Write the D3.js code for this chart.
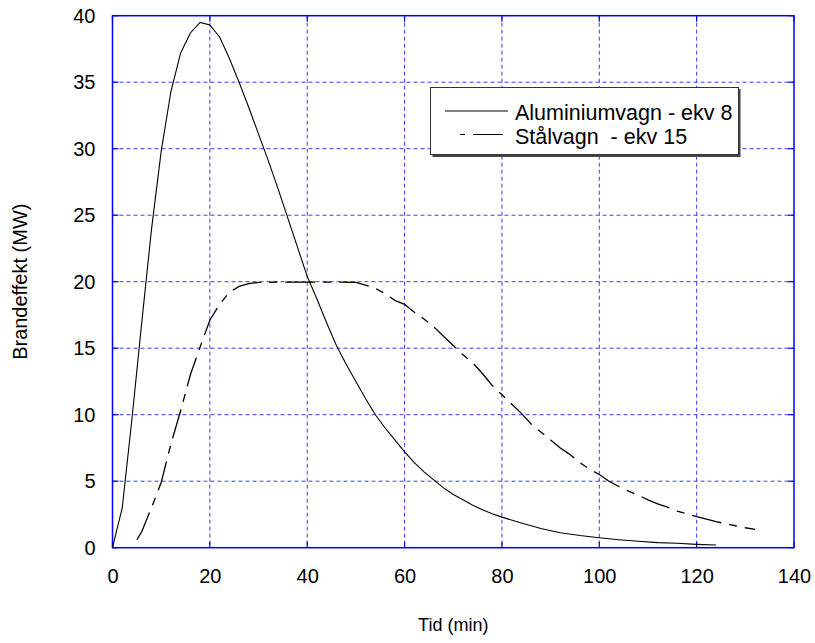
<!DOCTYPE html>
<html>
<head>
<meta charset="utf-8">
<script src="https://cdn.jsdelivr.net/npm/d3@7"></script>
<style>
  html, body { margin: 0; padding: 0; background: #fff; }
  svg { display: block; font-family: "Liberation Sans", Arial, sans-serif; }
</style>
</head>
<body>
<svg id="chart" width="815" height="643"></svg>
<script>
// Aluminiumvagn - ekv 8
const aluTime = [0, 2, 4, 6, 8, 10, 12, 14, 16, 18, 20, 22, 24, 26, 28, 30, 32, 34, 36, 38, 40, 42, 44, 46, 48, 50, 52, 54, 56, 58, 60, 62, 64, 66, 68, 70, 72, 74, 76, 78, 80, 84, 88, 92, 96, 100, 104, 108, 112, 116, 120, 124];
const aluPower = [0, 3.0, 9.7, 16.9, 23.9, 29.8, 34.3, 37.2, 38.7, 39.5, 39.3, 38.4, 36.8, 35.0, 33.1, 31.1, 29.1, 27.0, 24.8, 22.6, 20.4, 18.7, 16.9, 15.2, 13.8, 12.5, 11.2, 10.0, 9.0, 8.1, 7.2, 6.4, 5.7, 5.1, 4.5, 4.0, 3.6, 3.2, 2.85, 2.55, 2.3, 1.85, 1.45, 1.13, 0.92, 0.75, 0.6, 0.48, 0.38, 0.33, 0.25, 0.2];

// Stålvagn - ekv 15
const stalTime = [5, 6, 8, 10, 12, 14, 16, 18, 20, 22, 24, 26, 28, 30, 35, 40, 45, 50, 52, 54, 56, 58, 60, 62, 64, 66, 68, 70, 72, 74, 76, 78, 80, 82, 84, 86, 88, 90, 92, 94, 96, 98, 100, 102, 104, 106, 108, 110, 112, 114, 116, 118, 120, 122, 124, 126, 128, 130, 132];
const stalPower = [0.6, 1.2, 3.0, 4.9, 7.8, 10.3, 13.0, 15.1, 17.1, 18.3, 19.2, 19.65, 19.85, 19.95, 19.97, 19.97, 19.97, 19.95, 19.75, 19.5, 19.1, 18.6, 18.3, 17.7, 17.2, 16.6, 15.9, 15.2, 14.5, 13.9, 13.1, 12.2, 11.5, 10.8, 10.1, 9.3, 8.7, 8.1, 7.5, 7.0, 6.4, 5.9, 5.5, 5.0, 4.6, 4.25, 3.95, 3.6, 3.3, 3.05, 2.75, 2.55, 2.33, 2.15, 1.96, 1.8, 1.65, 1.5, 1.38];

const xTicks = [0, 20, 40, 60, 80, 100, 120, 140];
const yTicks = [0, 5, 10, 15, 20, 25, 30, 35, 40];
const seriesNames = ["Aluminiumvagn - ekv 8", "Stålvagn  - ekv 15"];
const xTitle = "Tid (min)";
const yTitle = "Brandeffekt (MW)";

const svg = d3.select("#chart");
const m = { left: 112.5, right: 794, top: 15.7, bottom: 547.7 };

const x = d3.scaleLinear().domain([0, 140]).range([m.left, m.right]);
const y = d3.scaleLinear().domain([0, 40]).range([m.bottom, m.top]);

const gridColor = "#3c3cff";

// grid lines
const grid = svg.append("g");
grid.selectAll("line.vx").data(xTicks.slice(1, -1)).enter().append("line")
  .attr("x1", d => x(d)).attr("x2", d => x(d))
  .attr("y1", m.top).attr("y2", m.bottom)
  .attr("stroke", gridColor).attr("stroke-width", 1).attr("stroke-dasharray", "4,3");
grid.selectAll("line.hy").data(yTicks.slice(1, -1)).enter().append("line")
  .attr("y1", d => y(d)).attr("y2", d => y(d))
  .attr("x1", m.left).attr("x2", m.right)
  .attr("stroke", gridColor).attr("stroke-width", 1).attr("stroke-dasharray", "4,3");

// short inward ticks
const tk = svg.append("g").attr("stroke", "#0000ff").attr("stroke-width", 1.2);
yTicks.forEach(v => {
  tk.append("line").attr("x1", m.left).attr("x2", m.left + 6).attr("y1", y(v)).attr("y2", y(v));
  tk.append("line").attr("x1", m.right).attr("x2", m.right - 6).attr("y1", y(v)).attr("y2", y(v));
});
xTicks.forEach(v => {
  tk.append("line").attr("y1", m.bottom).attr("y2", m.bottom - 6).attr("x1", x(v)).attr("x2", x(v));
  tk.append("line").attr("y1", m.top).attr("y2", m.top + 6).attr("x1", x(v)).attr("x2", x(v));
});

// frame
svg.append("rect")
  .attr("x", m.left).attr("y", m.top)
  .attr("width", m.right - m.left).attr("height", m.bottom - m.top)
  .attr("fill", "none").attr("stroke", "#0000ff").attr("stroke-width", 1.5);

// axes via d3 axis generators (labels only)
const xAxis = svg.append("g").attr("transform", `translate(0,${m.bottom})`)
  .call(d3.axisBottom(x).tickValues(xTicks).tickSize(0).tickPadding(21));
xAxis.select(".domain").remove();
xAxis.selectAll("text").attr("font-size", 20).attr("fill", "#000")
  .attr("font-family", "Liberation Sans, Arial, sans-serif");

const yAxis = svg.append("g").attr("transform", `translate(${m.left},0)`)
  .call(d3.axisLeft(y).tickValues(yTicks).tickSize(0).tickPadding(17));
yAxis.select(".domain").remove();
yAxis.selectAll("text").attr("font-size", 20).attr("fill", "#000")
  .attr("font-family", "Liberation Sans, Arial, sans-serif");

// titles
svg.append("text").attr("x", (m.left + m.right) / 2).attr("y", 631)
  .attr("text-anchor", "middle").attr("font-size", 18).text(xTitle);
svg.append("text").attr("transform", `translate(27,${(m.top + m.bottom) / 2}) rotate(-90)`)
  .attr("text-anchor", "middle").attr("font-size", 20).text(yTitle);

// lines
const line = d3.line().x(d => x(d[0])).y(d => y(d[1]));
const aluData = aluTime.map((t, i) => [t, aluPower[i]]);
const stalData = stalTime.map((t, i) => [t, stalPower[i]]);

svg.append("path").datum(aluData).attr("d", line)
  .attr("fill", "none").attr("stroke", "#000").attr("stroke-width", 1.1);
svg.append("path").datum(stalData).attr("d", line)
  .attr("fill", "none").attr("stroke", "#000").attr("stroke-width", 1.3)
  .attr("stroke-dasharray", "30,8,8,8");

// legend
const lg = svg.append("g");
lg.append("rect").attr("x", 432.5).attr("y", 89).attr("width", 308).attr("height", 68)
  .attr("fill", "#444");
lg.append("rect").attr("x", 430.5).attr("y", 87.5).attr("width", 308).attr("height", 67)
  .attr("fill", "#fff").attr("stroke", "#333").attr("stroke-width", 1);
lg.append("line").attr("x1", 445).attr("x2", 508).attr("y1", 111).attr("y2", 111)
  .attr("stroke", "#000").attr("stroke-width", 1.1);
lg.append("line").attr("x1", 460).attr("x2", 503).attr("y1", 134.5).attr("y2", 134.5)
  .attr("stroke", "#000").attr("stroke-width", 1.1).attr("stroke-dasharray", "5,8,30");
lg.append("text").attr("x", 515).attr("y", 119.5).attr("font-size", 21.5)
  .text(seriesNames[0]);
lg.append("text").attr("x", 515).attr("y", 144).attr("font-size", 21.5)
  .attr("xml:space", "preserve").style("white-space", "pre")
  .text(seriesNames[1]);
</script>
</body>
</html>
